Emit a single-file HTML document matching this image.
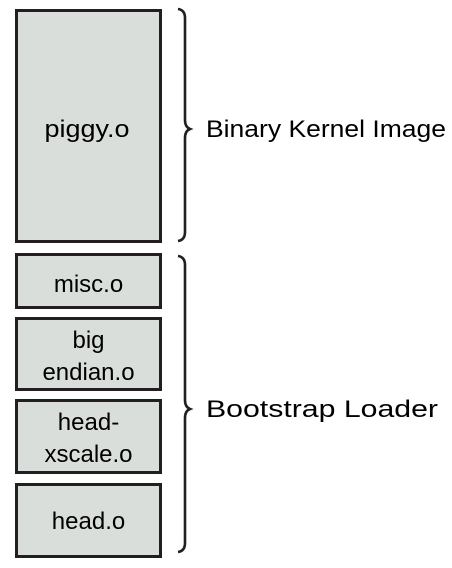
<!DOCTYPE html>
<html><head><style>
html,body{margin:0;padding:0;background:#fff;}
</style></head><body>
<svg width="452" height="563" viewBox="0 0 452 563" xmlns="http://www.w3.org/2000/svg" font-family="Liberation Sans, Arial, sans-serif" font-size="24" fill="#000">
<g fill="#d9dedb" stroke="#231f20" stroke-width="3">
<rect x="16.5" y="10.5" width="144" height="231"/>
<rect x="16.5" y="254.5" width="144" height="53"/>
<rect x="16.5" y="318.5" width="144" height="71"/>
<rect x="16.5" y="400.5" width="144" height="72"/>
<rect x="16.5" y="484.5" width="144" height="72"/>
</g>
<g text-anchor="middle">
<text x="87" y="137" textLength="85" lengthAdjust="spacingAndGlyphs">piggy.o</text>
<text x="88.5" y="292">misc.o</text>
<text x="88.5" y="348">big</text>
<text x="88.5" y="380">endian.o</text>
<text x="88.5" y="430">head-</text>
<text x="88.5" y="462">xscale.o</text>
<text x="88.5" y="529">head.o</text>
</g>
<g fill="none" stroke="#231f20" stroke-width="2.6">
<path d="M178,9 Q185,10 185,18 L185,120 Q185,127 190,129 Q185,131 185,138 L185,232 Q185,240 178,241"/>
<path d="M178,256 Q185,257 185,265 L185,400 Q185,407 190,409 Q185,411 185,418 L185,543 Q185,551 178,552"/>
</g>
<text x="206" y="137" textLength="240" lengthAdjust="spacingAndGlyphs">Binary Kernel Image</text>
<text x="206" y="417" textLength="232" lengthAdjust="spacingAndGlyphs">Bootstrap Loader</text>
</svg>
</body></html>
